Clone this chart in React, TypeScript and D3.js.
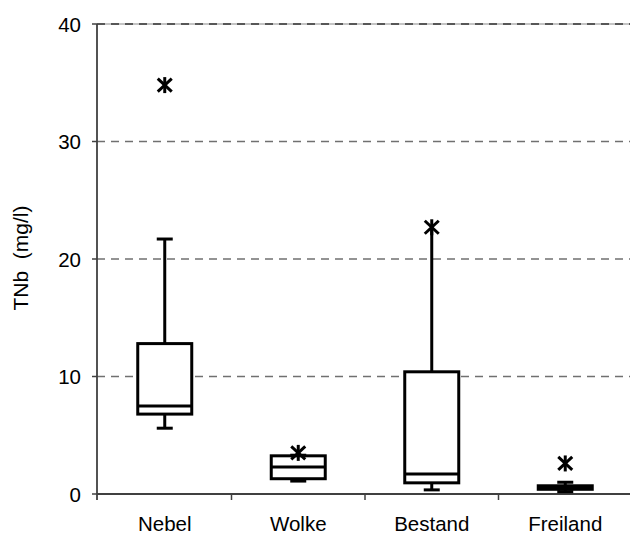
import React from "react";
import * as d3 from "d3";

const categories = ["Nebel", "Wolke", "Bestand", "Freiland"];
const whiskerLow = [5.6, 1.1, 0.35, 0.2];
const quartile1 = [6.8, 1.3, 0.95, 0.4];
const medians = [7.5, 2.3, 1.7, 0.55];
const quartile3 = [12.8, 3.25, 10.4, 0.7];
const whiskerHigh = [21.7, 3.3, 22.7, 1.0];
const outliers = [34.8, 3.5, 22.7, 2.6];
const yTicks = [0, 10, 20, 30, 40];
const yLabel = "TNb  (mg/l)";

export default function App() {
  const W = 630, H = 534;
  const x = d3.scaleBand<string>().domain(categories).range([98, 632]).padding(0);
  const y = d3.scaleLinear().domain([0, 40]).range([494, 24]);
  const axisX = 97;
  const boxHalf = 27;
  const capHalf = 8;
  const font = "'Liberation Sans', Arial, sans-serif";
  const bw = x.bandwidth();

  return (
    <svg width={W} height={H} style={{ position: "absolute", left: 0, top: 0, background: "#fff" }} fontFamily={font}>
      {yTicks.filter((t) => t > 0).map((t) => (
        <g key={"g" + t}>
          {t === 40 && <line x1={axisX} x2={W} y1={y(t)} y2={y(t)} stroke="#b0b0b0" strokeWidth={1.5} />}
          <line x1={axisX} x2={W} y1={y(t)} y2={y(t)} stroke={t === 40 ? "#333" : "#707070"} strokeWidth={1.5} strokeDasharray="8,6" />
        </g>
      ))}
      <line x1={axisX} x2={axisX} y1={y(40)} y2={y(0) + 6} stroke="#404040" strokeWidth={1.8} />
      {yTicks.map((t) => (
        <g key={"t" + t}>
          <line x1={axisX - 5} x2={axisX} y1={y(t)} y2={y(t)} stroke="#404040" strokeWidth={1.5} />
          <text x={81} y={y(t) + 7.5} textAnchor="end" fontSize={20.5} fill="#000">{t}</text>
        </g>
      ))}
      <line x1={axisX} x2={W} y1={y(0)} y2={y(0)} stroke="#404040" strokeWidth={1.8} />
      {categories.slice(1).map((c) => (
        <line key={"xt" + c} x1={x(c)!} x2={x(c)!} y1={y(0)} y2={y(0) + 6} stroke="#404040" strokeWidth={1.5} />
      ))}
      {categories.map((c) => (
        <text key={"xl" + c} x={x(c)! + bw / 2} y={531} textAnchor="middle" fontSize={20.5} fill="#000">{c}</text>
      ))}
      <text transform={`translate(28,258) rotate(-90)`} textAnchor="middle" fontSize={21} fill="#000" xmlSpace="preserve">{yLabel}</text>
      {categories.map((c, i) => {
        const cx = x(c)! + bw / 2;
        const showCap = whiskerHigh[i] < outliers[i] - 0.05;
        return (
          <g key={"b" + c} stroke="#000" strokeWidth={3} fill="none">
            <line x1={cx} x2={cx} y1={y(whiskerLow[i])} y2={y(quartile1[i])} />
            <line x1={cx} x2={cx} y1={y(quartile3[i])} y2={y(whiskerHigh[i])} />
            <line x1={cx - capHalf} x2={cx + capHalf} y1={y(whiskerLow[i])} y2={y(whiskerLow[i])} />
            {showCap && <line x1={cx - capHalf} x2={cx + capHalf} y1={y(whiskerHigh[i])} y2={y(whiskerHigh[i])} />}
            <rect x={cx - boxHalf} width={boxHalf * 2} y={y(quartile3[i])} height={y(quartile1[i]) - y(quartile3[i])} fill="#fff" />
            <line x1={cx - boxHalf} x2={cx + boxHalf} y1={y(medians[i])} y2={y(medians[i])} />
            {(() => {
              const oy = y(outliers[i]);
              return (
                <g strokeWidth={3}>
                  <line x1={cx} x2={cx} y1={oy - 8} y2={oy + 8} />
                  <line x1={cx - 7} x2={cx + 7} y1={oy - 6.5} y2={oy + 6.5} />
                  <line x1={cx - 7} x2={cx + 7} y1={oy + 6.5} y2={oy - 6.5} />
                </g>
              );
            })()}
          </g>
        );
      })}
    </svg>
  );
}
